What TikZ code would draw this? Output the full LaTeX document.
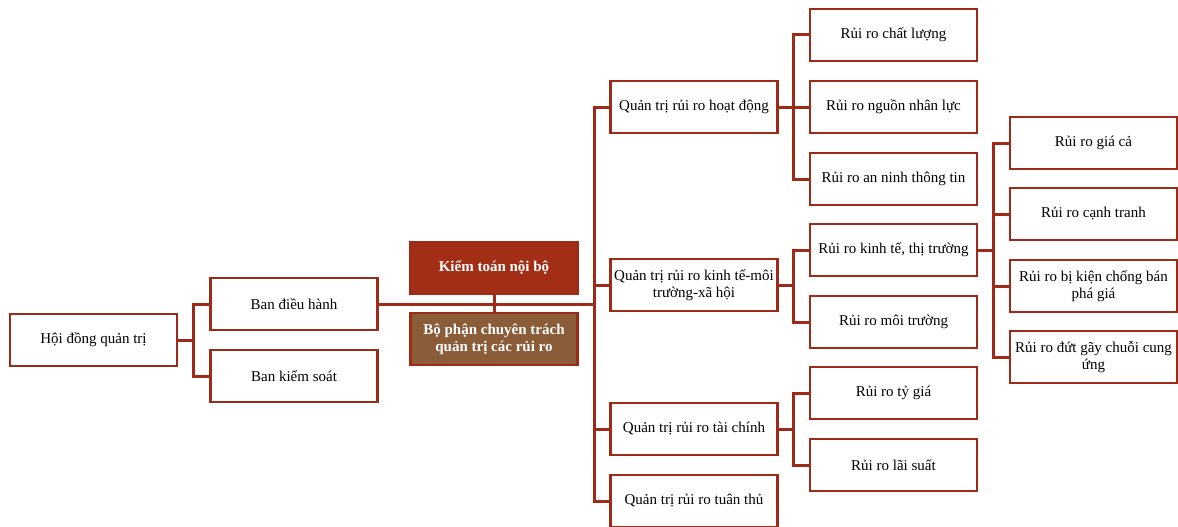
\documentclass[tikz,border=0pt]{standalone}
\usepackage{fontspec}
\setmainfont{Liberation Serif}
\definecolor{brd}{RGB}{158,43,23}
\definecolor{redfill}{RGB}{163,46,22}
\definecolor{brownfill}{RGB}{138,92,56}
\begin{document}
\begin{tikzpicture}[x=1pt,y=-1pt,
  box/.style={draw=brd,line width=2.6pt,fill=white,minimum width=167pt,minimum height=52pt,
    inner sep=0pt,outer sep=0pt,align=center,font=\fontsize{15}{17}\selectfont},
  hbox/.style={box,text=white,font=\fontsize{15}{17}\selectfont\bfseries},
  conn/.style={draw=brd,line width=3pt}]
\useasboundingbox (0,0) rectangle (1178,527);
% nodes
\node[box] (hdqt) at (93.5,340) {Hội đồng quản trị};
\node[box] (bdh) at (294,304) {Ban điều hành};
\node[box] (bks) at (294,376) {Ban kiểm soát};
\node[hbox,fill=redfill] (ktnb) at (494,268) {Kiểm toán nội bộ};
\node[hbox,fill=brownfill] (bpct) at (494,339) {Bộ phận chuyên trách\\quản trị các rủi ro};
\node[box] (q1) at (694,107) {Quản trị rủi ro hoạt động};
\node[box] (q2) at (694,285) {Quản trị rủi ro kinh tế-môi\\trường-xã hội};
\node[box] (q3) at (694,429) {Quản trị rủi ro tài chính};
\node[box] (q4) at (694,501) {Quản trị rủi ro tuân thủ};
\node[box] (r1) at (893.5,35) {Rủi ro chất lượng};
\node[box] (r2) at (893.5,107) {Rủi ro nguồn nhân lực};
\node[box] (r3) at (893.5,179) {Rủi ro an ninh thông tin};
\node[box] (r4) at (893.5,250) {Rủi ro kinh tế, thị trường};
\node[box] (r5) at (893.5,322) {Rủi ro môi trường};
\node[box] (r6) at (893.5,393) {Rủi ro tỷ giá};
\node[box] (r7) at (893.5,465) {Rủi ro lãi suất};
\node[box] (s1) at (1093.5,143) {Rủi ro giá cả};
\node[box] (s2) at (1093.5,214) {Rủi ro cạnh tranh};
\node[box] (s3) at (1093.5,286) {Rủi ro bị kiện chống bán\\phá giá};
\node[box] (s4) at (1093.5,357) {Rủi ro đứt gãy chuỗi cung\\ứng};
% junctions
\coordinate (j0) at (193,340);
\coordinate (jt) at (594,304);
\coordinate (j1) at (793,107);
\coordinate (j2) at (793,285);
\coordinate (j3) at (793,429);
\coordinate (j4) at (993,250);
% connectors
\draw[conn] (hdqt.east) -- (j0) |- (bdh.west);
\draw[conn] (j0) |- (bks.west);
\draw[conn] (bdh.east) -- (jt);
\draw[conn] (ktnb.south) -- (bpct.north);
\draw[conn] (jt) |- (q1.west);
\draw[conn] (jt) |- (q2.west);
\draw[conn] (jt) |- (q3.west);
\draw[conn] (jt) |- (q4.west);
\draw[conn] (q1.east) -- (j1) |- (r1.west);
\draw[conn] (j1) -- (r2.west);
\draw[conn] (j1) |- (r3.west);
\draw[conn] (q2.east) -- (j2) |- (r4.west);
\draw[conn] (j2) |- (r5.west);
\draw[conn] (q3.east) -- (j3) |- (r6.west);
\draw[conn] (j3) |- (r7.west);
\draw[conn] (r4.east) -- (j4) |- (s1.west);
\draw[conn] (j4) |- (s2.west);
\draw[conn] (j4) |- (s3.west);
\draw[conn] (j4) |- (s4.west);
\end{tikzpicture}
\end{document}
